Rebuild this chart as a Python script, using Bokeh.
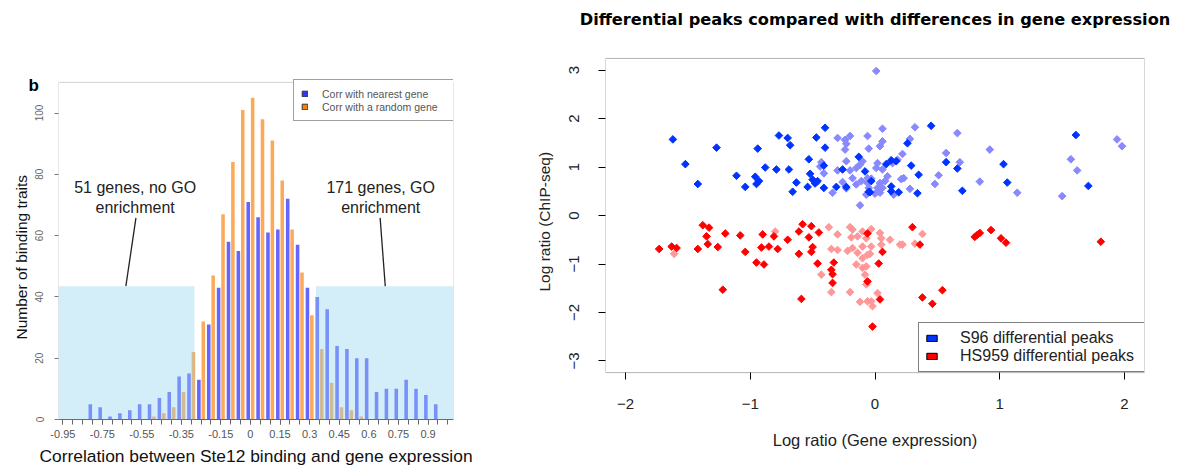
import math
from bokeh.plotting import figure
from bokeh.layouts import row
from bokeh.models import (Range1d, FixedTicker, Legend, LegendItem, BoxAnnotation, Label,
                          LinearAxis, Title)
from bokeh.embed import file_html
from bokeh.resources import INLINE

FONT = "Liberation Sans"
NAN = float("nan")

# ---------------- Panel b : histogram of correlations ----------------
BINS = [-0.95, -0.9, -0.85, -0.8, -0.75, -0.7, -0.65, -0.6, -0.55, -0.5,
        -0.45, -0.4, -0.35, -0.3, -0.25, -0.2, -0.15, -0.1, -0.05, 0.0,
        0.05, 0.1, 0.15, 0.2, 0.25, 0.3, 0.35, 0.4, 0.45, 0.5,
        0.55, 0.6, 0.65, 0.7, 0.75, 0.8, 0.85, 0.9, 0.95, 1.0]
NEAREST = [0, 0, 0, 5, 4, 1, 2, 3, 5, 5,
           7, 9, 14, 15, 13, 31, 43, 58, 55, 71,
           66, 61, 62, 72, 57, 43, 40, 36, 24, 23,
           20, 20, 9, 10, 10, 13, 10, 8, 5, 0]
RANDOM = [0, 0, 0, 0, 0, 0, 0, 0, 0, 1,
          2, 4, 9, 22, 32, 47, 67, 84, 101, 105,
          98, 91, 78, 62, 48, 34, 23, 12, 4, 3,
          1, 0, 0, 0, 0, 0, 0, 0, 0, 0]
TICK_VALUES = [-0.95, -0.75, -0.55, -0.35, -0.15, 0.0, 0.15, 0.3, 0.45, 0.6, 0.75, 0.9]
TICK_LABELS = ["-0.95", "-0.75", "-0.55", "-0.35", "-0.15", "0", "0.15", "0.3", "0.45", "0.6", "0.75", "0.9"]
Y_TICKS_B = [0, 20, 40, 60, 80, 100]
Y_MAX_B = 110
LOW_CUT, HIGH_CUT, ZONE_TOP = -0.2833, 0.3317, 43.5

# ---------------- Right panel : differential peaks ----------------
S96_X = [-1.62, -1.52, -1.42, -1.27, -1.11, -1.04, -0.96, -0.94, -0.95, -0.93, -0.88, -0.79, -0.77, -0.70,
         -0.68, -0.69, -0.66, -0.63, -0.54, -0.53, -0.52, -0.50, -0.47, -0.48, -0.46, -0.40, -0.40, -0.41,
         -0.41, -0.31, -0.26, -0.23, -0.13, -0.08, -0.05, 0.26, 0.45, 0.09, 0.13, 0.17, 0.29, 0.35, 0.57,
         0.66, 1.03, 1.06, 0.70, 0.34, 0.19, 0.13, 0.13, -0.04, -0.03, 1.61, 1.71]
S96_Y = [1.57, 1.06, 0.65, 1.40, 0.82, 0.59, 0.80, 1.38, 0.65, 0.71, 0.99, 0.95, 1.65, 1.60,
         1.45, 0.95, 0.49, 0.68, 0.59, 1.16, 0.86, 0.74, 1.61, 0.66, 0.71, 1.81, 1.40, 1.03,
         0.57, 0.59, 0.95, 0.59, 1.21, 0.91, 0.49, 1.49, 1.85, 1.06, 1.14, 1.12, 1.03, 0.84, 1.10,
         0.97, 1.06, 0.68, 0.51, 0.46, 0.48, 0.50, 0.60, 0.48, 0.71, 1.66, 0.61]
S96_LIGHT_X = [-0.30, -0.24, -0.23, -0.20, -0.24, -0.06, -0.05, -0.43, -0.44, -0.41, -0.23, -0.30, -0.20,
               -0.18, -0.15, -0.12, -0.10, -0.26, -0.23, -0.34, -0.15, -0.11, -0.07, -0.12, -0.05, -0.06,
               0.01, 0.06, 0.06, 0.04, 0.32, 0.28, 0.22, 0.18, 0.14, 0.02, 0.01, 0.06, 0.10, -0.03,
               0.04, 0.08, 0.02, 0.06, -0.06, 0.00, 0.04, 0.15, 0.21, 0.23, 0.28, 0.48, 0.51, 0.57,
               0.68, 0.66, 0.84, 0.92, 1.14, 1.50, 1.57, 1.62, 1.94, 1.98]
S96_LIGHT_Y = [1.60, 1.56, 1.48, 1.64, 1.36, 1.64, 1.38, 1.10, 1.01, 0.87, 1.12, 0.93, 0.93,
               0.77, 0.98, 1.05, 1.12, 0.69, 0.56, 0.47, 0.64, 0.71, 0.43, 0.21, 0.57, 0.77,
               2.98, 1.79, 1.53, 1.43, 1.82, 1.58, 1.27, 1.15, 1.08, 1.08, 0.98, 0.95, 0.81, 0.76,
               0.67, 0.71, 0.57, 0.57, 0.67, 0.45, 0.47, 0.43, 0.75, 0.77, 0.55, 0.65, 0.83, 1.29,
               1.10, 1.70, 0.70, 1.36, 0.47, 0.40, 1.16, 0.93, 1.57, 1.43]
HS959_X = [-1.73, -1.63, -1.59, -1.42, -1.38, -1.33, -1.35, -1.34, -1.26, -1.22, -1.20, -1.08, -1.04,
           -0.95, -0.89, -0.90, -0.91, -0.85, -0.81, -0.78, -0.70, -0.61, -0.58, -0.61, -0.59, -0.53,
           -0.51, -0.50, -0.51, -0.45, -0.46, -0.33, -0.35, -0.34, -0.34, -0.06, -0.06,
           0.30, 0.36, 0.06, 0.03, 0.04, 0.38, 0.46, 0.54, -0.02, 0.80, 0.82, 0.84, 0.93, 1.01, 1.05, 1.81]
HS959_Y = [-0.69, -0.64, -0.67, -0.69, -0.20, -0.25, -0.43, -0.59, -0.65, -1.53, -0.37, -0.41, -0.75,
           -0.97, -1.01, -0.39, -0.66, -0.64, -0.43, -0.69, -0.50, -0.33, -0.18, -0.79, -1.72, -0.45,
           -0.22, -0.65, -0.75, -0.35, -0.99, -0.97, -1.12, -1.21, -1.39, -0.37, -1.36,
           -0.24, -0.60, -0.75, -0.99, -1.73, -1.69, -1.82, -1.54, -2.29, -0.44, -0.40, -0.36, -0.30, -0.47, -0.56, -0.54]
HS959_LIGHT_X = [-1.61, -0.80, -0.37, -0.30, -0.35, -0.30, -0.43, -0.35, -0.20, -0.12, -0.20, -0.18, -0.14,
                 -0.19, -0.22, -0.18, -0.14, -0.10, -0.15, -0.10, -0.08, -0.07, -0.10, -0.07, -0.06, -0.10,
                 -0.03, 0.04, 0.05, 0.12, 0.05, -0.03, 0.20, 0.22, 0.32, 0.38, -0.04, -0.07, 0.02, -0.03,
                 -0.02, -0.06]
HS959_LIGHT_Y = [-0.79, -0.33, -0.24, -0.39, -0.69, -0.71, -1.22, -1.58, -1.58, -1.78, -0.24, -0.29, -0.43,
                 -0.45, -0.73, -0.67, -0.77, -0.64, -1.01, -1.08, -1.22, -1.42, -0.33, -0.47, -0.81, -0.88,
                 -0.28, -0.36, -0.47, -0.50, -0.60, -0.64, -0.60, -0.60, -0.58, -0.38, -0.79, -1.05, -1.60, -1.77,
                 -1.87, -1.77]
X_TICKS_R = [-2, -1, 0, 1, 2]
Y_TICKS_R = [-3, -2, -1, 0, 1, 2, 3]
X_LIM_R, Y_LIM_R = 2.16, 3.24

# shared outer borders (a row layout aligns the plot frames of its children)
H = 468
BORDER_TOP, BORDER_BOTTOM = 30, 48
FRAME_H = H - BORDER_TOP - BORDER_BOTTOM          # 390 px
BOX_B_TOP = 82                                     # px, top of histogram box
BOX_R_TOP, BOX_R_BOTTOM = 58, 373                  # px, box of scatter


def style_text_axis(ax, size, color):
    ax.major_label_text_font = FONT
    ax.major_label_text_font_size = size
    ax.major_label_text_color = color
    ax.axis_label_text_font = FONT
    ax.axis_label_text_font_style = "normal"
    ax.axis_label_text_color = "#000000"


# ======================= LEFT FIGURE =======================
px_per_unit_b = (H - BORDER_BOTTOM - BOX_B_TOP) / Y_MAX_B
y_top_b = FRAME_H / px_per_unit_b
p1 = figure(width=500, height=H, output_backend="svg", toolbar_location=None,
            x_range=Range1d(-0.9723, 1.0287), y_range=Range1d(0, y_top_b),
            min_border_left=58, min_border_right=47,
            min_border_top=BORDER_TOP, min_border_bottom=BORDER_BOTTOM)
p1.xgrid.grid_line_color = None
p1.ygrid.grid_line_color = None
p1.outline_line_color = None

OFF, BW = 0.0112, 0.018
p1.vbar(x=[b - OFF for b in BINS], top=NEAREST, width=BW, fill_color="#6464ff", line_color=None)
p1.vbar(x=[b + OFF for b in BINS], top=RANDOM, width=BW, fill_color="#fbaa5a", line_color=None)

for kw in (dict(right=LOW_CUT), dict(left=HIGH_CUT)):
    p1.add_layout(BoxAnnotation(top=ZONE_TOP, bottom=0, fill_color="#94d4f0", fill_alpha=0.4,
                                line_color=None, level="overlay", **kw))
p1.add_layout(BoxAnnotation(top=Y_MAX_B, bottom=0, fill_color=None, line_color="#666666",
                            line_width=1, level="overlay"))

xa = p1.xaxis[0]
xa.ticker = FixedTicker(ticks=TICK_VALUES, minor_ticks=BINS)
xa.major_label_overrides = {v: s for v, s in zip(TICK_VALUES, TICK_LABELS)}
xa.major_tick_out, xa.major_tick_in = 5, 0
xa.minor_tick_out, xa.minor_tick_in = 5, 0
xa.major_tick_line_color = "#666666"
xa.minor_tick_line_color = "#666666"
xa.axis_line_color = "#666666"
xa.major_label_standoff = 5
xa.axis_label = "Correlation between Ste12 binding and gene expression"
xa.axis_label_standoff = 5
style_text_axis(xa, "11px", "#555555")
xa.axis_label_text_font_size = "17.4px"
xa.axis_label_text_color = "#111111"

ya = p1.yaxis[0]
ya.ticker = FixedTicker(ticks=Y_TICKS_B)
ya.major_label_orientation = "vertical"
ya.major_tick_out, ya.major_tick_in = 4, 0
ya.minor_tick_line_color = None
ya.major_tick_line_color = "#777777"
ya.axis_line_color = None
ya.major_label_standoff = 11
style_text_axis(ya, "10px", "#666666")
p1.add_layout(Title(text="Number of binding traits", align="left", offset=80, standoff=6,
                    text_font=FONT, text_font_style="normal", text_font_size="15.5px",
                    text_color="#111111"), "left")

leg_b1 = p1.quad(left=[NAN], right=[NAN], top=[NAN], bottom=[NAN], fill_color="#3333ff", line_color="#333333")
leg_b2 = p1.quad(left=[NAN], right=[NAN], top=[NAN], bottom=[NAN], fill_color="#ff8000", line_color="#333333")
lg1 = Legend(items=[LegendItem(label="Corr with nearest gene", renderers=[leg_b1]),
                    LegendItem(label="Corr with a random gene", renderers=[leg_b2])],
             location=(235, 298), margin=0, padding=7, spacing=0, glyph_width=7, glyph_height=7,
             label_standoff=14, label_height=13, label_width=125, label_text_font=FONT,
             label_text_font_size="10.5px", label_text_color="#555555",
             border_line_color="#444444", border_line_width=1, background_fill_alpha=1.0)
p1.add_layout(lg1)

p1.title = Title(text="b", align="left", offset=-30, standoff=-129, text_font=FONT,
                 text_font_style="bold", text_font_size="17px", text_color="#000000")

for xx, lines in ((-0.584, ("51 genes, no GO", "enrichment")), (0.660, ("171 genes, GO", "enrichment"))):
    for yy, t in zip((75.6, 69.1), lines):
        p1.add_layout(Label(x=xx, y=yy, text=t, text_font=FONT, text_font_size="16px",
                            text_color="#222222", text_align="center", text_baseline="middle"))
p1.segment(x0=[-0.580, 0.657], y0=[65.8, 65.8], x1=[-0.631, 0.683], y1=[ZONE_TOP, ZONE_TOP],
           line_color="#222222", line_width=1.3)

# ======================= RIGHT FIGURE =======================
px_per_unit_r = (BOX_R_BOTTOM - BOX_R_TOP) / (2 * Y_LIM_R)
y_top_r = Y_LIM_R + (BOX_R_TOP - BORDER_TOP) / px_per_unit_r
y_bot_r = -Y_LIM_R - (H - BORDER_BOTTOM - BOX_R_BOTTOM) / px_per_unit_r
p2 = figure(width=683, height=H, output_backend="svg", toolbar_location=None,
            x_range=Range1d(-X_LIM_R, X_LIM_R), y_range=Range1d(y_bot_r, y_top_r),
            x_axis_location=None,
            min_border_left=105, min_border_right=39,
            min_border_top=BORDER_TOP, min_border_bottom=BORDER_BOTTOM)
p2.xgrid.grid_line_color = None
p2.ygrid.grid_line_color = None
p2.outline_line_color = None
p2.add_layout(BoxAnnotation(top=Y_LIM_R, bottom=-Y_LIM_R, fill_color=None, line_color="#000000",
                            line_width=1, level="overlay"))

MS = 5.4
ANG = math.pi / 4
p2.scatter(S96_LIGHT_X, S96_LIGHT_Y, marker="square", angle=ANG, size=MS, color="#8888ff")
p2.scatter(HS959_LIGHT_X, HS959_LIGHT_Y, marker="square", angle=ANG, size=MS, color="#ff9999")
p2.scatter(S96_X, S96_Y, marker="square", angle=ANG, size=MS, color="#0033ff")
p2.scatter(HS959_X, HS959_Y, marker="square", angle=ANG, size=MS, color="#ff0000")

xa2 = LinearAxis(fixed_location=-Y_LIM_R)
p2.add_layout(xa2, "below")
ya2 = p2.yaxis[0]
for ax, ticks in ((xa2, X_TICKS_R), (ya2, Y_TICKS_R)):
    ax.ticker = FixedTicker(ticks=ticks)
    ax.major_tick_out, ax.major_tick_in = 7, 0
    ax.minor_tick_line_color = None
    ax.major_tick_line_color = "#000000"
    ax.axis_line_color = None
    ax.major_label_standoff = 19
    style_text_axis(ax, "15px", "#222222")
ya2.major_label_orientation = "vertical"

p2.add_layout(Title(text="Log ratio (ChIP-seq)", align="left", offset=128, standoff=28,
                    text_font=FONT, text_font_style="normal", text_font_size="15.5px",
                    text_color="#222222"), "left")
p2.add_layout(Title(text="Log ratio (Gene expression)", align="center", vertical_align="top",
                    standoff=22, text_font=FONT, text_font_style="normal",
                    text_font_size="16.5px", text_color="#222222"), "below")

leg_r1 = p2.quad(left=[NAN], right=[NAN], top=[NAN], bottom=[NAN], fill_color="#0033ff", line_color="#000000")
leg_r2 = p2.quad(left=[NAN], right=[NAN], top=[NAN], bottom=[NAN], fill_color="#ff0000", line_color="#000000")
lg2 = Legend(items=[LegendItem(label="S96 differential peaks", renderers=[leg_r1]),
                    LegendItem(label="HS959 differential peaks", renderers=[leg_r2])],
             location=(313, 47), margin=0, padding=6, spacing=0, glyph_width=13, glyph_height=8,
             label_standoff=22, label_height=14, label_width=179, label_text_font=FONT,
             label_text_font_size="16px", label_text_color="#222222",
             border_line_color="#000000", border_line_width=1, background_fill_alpha=1.0)
p2.add_layout(lg2)

p2.title = Title(text="Differential peaks compared with differences in gene expression",
                 align="center", standoff=4, text_font="DejaVu Sans", text_font_style="bold",
                 text_font_size="16.2px", text_color="#000000")

layout = row(p1, p2)
open("out.html", "w").write(file_html(layout, INLINE))
